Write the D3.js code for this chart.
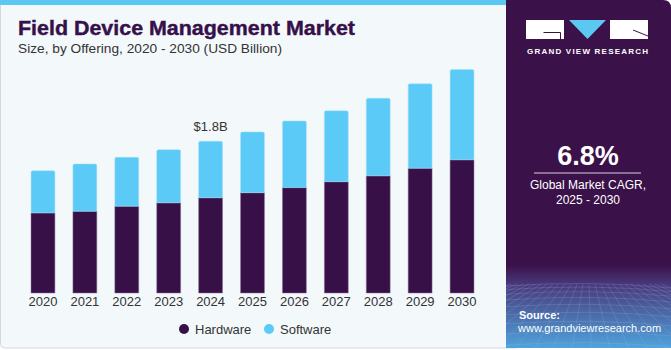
<!DOCTYPE html>
<html>
<head>
<meta charset="utf-8">
<script src="https://cdn.jsdelivr.net/npm/d3@7"></script>
<style>
  body { margin: 0; background: #fff; }
  svg { display: block; font-family: "Liberation Sans", Arial, sans-serif; }
</style>
</head>
<body>
<div id="chart"></div>
<script>
// chart data
var years = ["2020", "2021", "2022", "2023", "2024", "2025", "2026", "2027", "2028", "2029", "2030"];
var hardware = [0.95, 0.97, 1.03, 1.07, 1.13, 1.19, 1.25, 1.32, 1.39, 1.48, 1.58];
var software = [0.50, 0.56, 0.58, 0.63, 0.67, 0.72, 0.79, 0.84, 0.92, 1.00, 1.07];
var seriesNames = ["Hardware", "Software"];
var labelYear = "2024";
var labelText = "$1.8B";

var colors = { hw: "#381048", sw: "#5bcaf6", panel: "#3a1149" };

var width = 671, height = 350;

var svg = d3.select("#chart").append("svg")
  .attr("width", width)
  .attr("height", height);

var defs = svg.append("defs");

// left panel background
svg.append("rect")
  .attr("x", 0.5).attr("y", 0.5)
  .attr("width", 520).attr("height", 347.5)
  .attr("rx", 4)
  .attr("fill", "#f3f8fb")
  .attr("stroke", "#d4d8db");

// blue strip on top
svg.append("rect")
  .attr("x", 0).attr("y", 0)
  .attr("width", 506).attr("height", 5)
  .attr("fill", "#5bc8f2");

// titles
svg.append("text")
  .attr("x", 18).attr("y", 35)
  .attr("font-size", 20)
  .attr("font-weight", 900)
  .attr("fill", "#36104a")
  .attr("stroke", "#36104a")
  .attr("stroke-width", 0.4)
  .attr("textLength", 337)
  .attr("lengthAdjust", "spacingAndGlyphs")
  .text("Field Device Management Market");

svg.append("text")
  .attr("x", 18).attr("y", 53)
  .attr("font-size", 13.7)
  .attr("fill", "#333")
  .attr("textLength", 264)
  .attr("lengthAdjust", "spacingAndGlyphs")
  .text("Size, by Offering, 2020 - 2030 (USD Billion)");

// scales
var x = d3.scaleBand()
  .domain(years)
  .range([13, 492])
  .padding(0.43);

var y = d3.scaleLinear()
  .domain([0, 3])
  .range([293, 40]);

var rows = years.map(function(yr, i) {
  return { year: yr, Hardware: hardware[i], Software: software[i] };
});

var stack = d3.stack().keys(seriesNames)(rows);
var fills = { Hardware: colors.hw, Software: colors.sw };

var g = svg.append("g");

stack.forEach(function(layer) {
  g.selectAll(null)
    .data(layer)
    .enter().append("path")
    .attr("fill", fills[layer.key])
    .attr("stroke", layer.key === "Software" ? "#a6e0f8" : "#8a7396")
    .attr("stroke-width", 0.5)
    .attr("d", function(d) {
      var x0 = x(d.data.year), w = x.bandwidth();
      var top = y(d[1]), bot = y(d[0]);
      if (layer.key === "Software") {
        var r = 1.5;
        return "M" + x0 + "," + bot + "V" + (top + r) +
          "Q" + x0 + "," + top + " " + (x0 + r) + "," + top +
          "H" + (x0 + w - r) +
          "Q" + (x0 + w) + "," + top + " " + (x0 + w) + "," + (top + r) +
          "V" + bot + "Z";
      }
      return "M" + x0 + "," + bot + "V" + top + "H" + (x0 + w) + "V" + bot + "Z";
    });
});

// value label
var li = years.indexOf(labelYear);
svg.append("text")
  .attr("x", x(labelYear) + x.bandwidth() / 2)
  .attr("y", y(hardware[li] + software[li]) - 10)
  .attr("text-anchor", "middle")
  .attr("font-size", 13)
  .attr("fill", "#333")
  .text(labelText);

// x axis
var xAxis = svg.append("g")
  .attr("transform", "translate(0,293)")
  .call(d3.axisBottom(x).tickSize(0).tickPadding(4));
xAxis.select(".domain").remove();
xAxis.selectAll("text")
  .attr("font-size", 13)
  .attr("font-family", "Liberation Sans, Arial, sans-serif")
  .attr("fill", "#333");

// legend
var legend = svg.append("g").attr("transform", "translate(184,329)");
var legendX = [0, 85];
seriesNames.forEach(function(name, i) {
  var lg = legend.append("g").attr("transform", "translate(" + legendX[i] + ",0)");
  lg.append("circle").attr("r", 5).attr("fill", fills[name]);
  lg.append("text")
    .attr("x", 11).attr("y", 4.5)
    .attr("font-size", 13)
    .attr("fill", "#333")
    .text(name);
});

// right panel
var grad = defs.append("linearGradient")
  .attr("id", "panelGrad")
  .attr("x1", "0%").attr("y1", "0%")
  .attr("x2", "0%").attr("y2", "100%");
grad.append("stop").attr("offset", "0%").attr("stop-color", colors.panel);
grad.append("stop").attr("offset", "76%").attr("stop-color", colors.panel);
grad.append("stop").attr("offset", "82%").attr("stop-color", "#4a3a7c");
grad.append("stop").attr("offset", "100%").attr("stop-color", "#4fa3dc");

defs.append("clipPath").attr("id", "panelClip")
  .append("path")
  .attr("d", "M506,0H663Q671,0 671,8V348H506Z");

var panel = svg.append("g").attr("clip-path", "url(#panelClip)");
panel.append("rect")
  .attr("x", 506).attr("y", 0)
  .attr("width", 165).attr("height", 348)
  .attr("fill", "url(#panelGrad)");

// faint mesh in the lower part of the panel
var mesh = panel.append("g")
  .attr("stroke", "#9fc6ee")
  .attr("stroke-opacity", 0.28)
  .attr("stroke-width", 0.7)
  .attr("fill", "none");
d3.range(0, 12).forEach(function(i) {
  var yy = 286 + i * i * 0.55 + i * 3;
  mesh.append("path").attr("d", "M506," + yy + "Q590," + (yy - 6) + " 671," + (yy + 2));
});
d3.range(-6, 20).forEach(function(i) {
  var xt = 506 + i * 12;
  mesh.append("path").attr("d", "M" + (588 + (xt - 588) * 0.5) + ",284L" + (588 + (xt - 588) * 1.6) + ",350");
});

// logo
var logo = svg.append("g");
logo.append("rect").attr("x", 526).attr("y", 20).attr("width", 38).attr("height", 19).attr("fill", "#fff");
logo.append("path").attr("d", "M543.5,32.5H560.5V39").attr("stroke", colors.panel).attr("stroke-width", 1).attr("fill", "none");
logo.append("path").attr("d", "M569,20H606L587.5,39Z").attr("fill", "#5bc8f2");
logo.append("rect").attr("x", 610).attr("y", 20).attr("width", 38).attr("height", 19).attr("fill", "#fff");
logo.append("path").attr("d", "M633,30L648,36").attr("stroke", colors.panel).attr("stroke-width", 1).attr("fill", "none");
logo.append("text")
  .attr("x", 587.5).attr("y", 54)
  .attr("text-anchor", "middle")
  .attr("font-size", 8)
  .attr("font-weight", "bold")
  .attr("fill", "#fff")
  .attr("textLength", 121)
  .attr("lengthAdjust", "spacing")
  .text("GRAND VIEW RESEARCH");

// CAGR block
svg.append("text")
  .attr("x", 588).attr("y", 165)
  .attr("text-anchor", "middle")
  .attr("font-size", 27)
  .attr("font-weight", "bold")
  .attr("fill", "#fff")
  .text("6.8%");
svg.append("line")
  .attr("x1", 534).attr("x2", 641)
  .attr("y1", 173).attr("y2", 173)
  .attr("stroke", "#d9cfe0").attr("stroke-width", 1);
svg.append("text")
  .attr("x", 588).attr("y", 189)
  .attr("text-anchor", "middle")
  .attr("font-size", 12)
  .attr("fill", "#fff")
  .text("Global Market CAGR,");
svg.append("text")
  .attr("x", 588).attr("y", 204)
  .attr("text-anchor", "middle")
  .attr("font-size", 12)
  .attr("fill", "#fff")
  .text("2025 - 2030");

// source
svg.append("text")
  .attr("x", 519).attr("y", 319)
  .attr("font-size", 11)
  .attr("font-weight", "bold")
  .attr("fill", "#fff")
  .text("Source:");
svg.append("text")
  .attr("x", 518).attr("y", 332)
  .attr("font-size", 11)
  .attr("fill", "#fff")
  .text("www.grandviewresearch.com");
</script>
</body>
</html>
